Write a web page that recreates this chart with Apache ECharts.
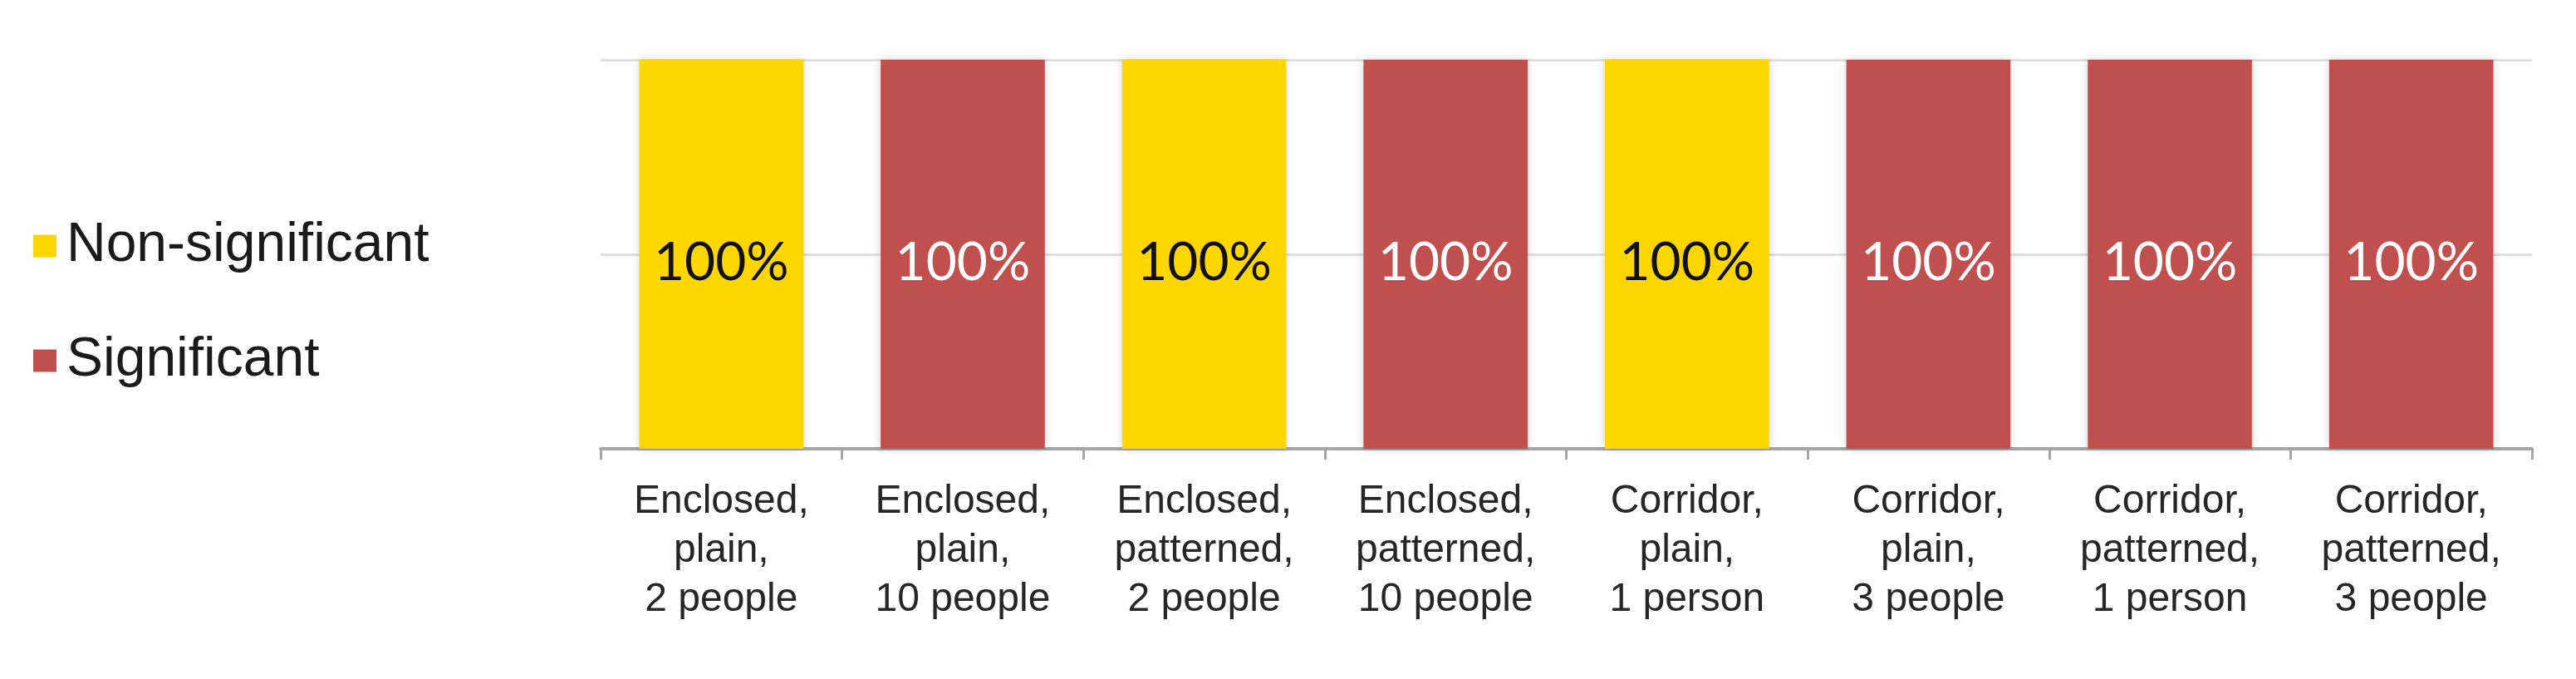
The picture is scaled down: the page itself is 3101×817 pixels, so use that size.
<!DOCTYPE html>
<html>
<head>
<meta charset="utf-8">
<title>Significance by condition</title>
<script src="https://cdn.jsdelivr.net/npm/echarts@6/dist/echarts.min.js"></script>
<style>
  html, body { margin: 0; padding: 0; background: #fff; }
  #main { width: 3101px; height: 817px; }
</style>
</head>
<body>
<div id="main"></div>
<script>
// categories (one bar each)
var categories = [
  "Enclosed,\nplain,\n2 people",
  "Enclosed,\nplain,\n10 people",
  "Enclosed,\npatterned,\n2 people",
  "Enclosed,\npatterned,\n10 people",
  "Corridor,\nplain,\n1 person",
  "Corridor,\nplain,\n3 people",
  "Corridor,\npatterned,\n1 person",
  "Corridor,\npatterned,\n3 people"
];

// percent of results, null where the category has no bar of that kind
var nonSignificant = [100, null, 100, null, 100, null, null, null];
var significant = [null, 100, null, 100, null, 100, 100, 100];

var seriesNames = ["Non-significant", "Significant"];
var yTicks = [0, 50, 100];

var myChart = echarts.init(document.getElementById("main"));
var option;

function barLabel(color) {
  return {
    show: true,
    position: "inside",
    offset: [0, 10],
    fontFamily: "Lato",
    fontSize: 64,
    color: color,
    formatter: function (p) {
      return p.value + "%";
    }
  };
}

option = {
  animation: false,
  backgroundColor: "#ffffff",
  legend: {
    orient: "vertical",
    left: 35,
    top: 258,
    itemWidth: 28,
    itemHeight: 27,
    itemGap: 72,
    icon: "rect",
    textStyle: {
      fontFamily: "Liberation Sans",
      fontSize: 66,
      lineHeight: 66,
      color: "#1a1a1a",
      padding: [0, 0, 0, 7]
    },
    data: seriesNames
  },
  grid: {
    left: 723,
    right: 53,
    top: 72,
    bottom: 277
  },
  xAxis: {
    type: "category",
    data: categories,
    axisLine: {
      lineStyle: { color: "#a6a6a6", width: 4 }
    },
    axisTick: {
      show: true,
      length: 13,
      lineStyle: { color: "#a6a6a6", width: 3 }
    },
    axisLabel: {
      interval: 0,
      margin: 34,
      fontFamily: "Liberation Sans",
      fontSize: 48,
      lineHeight: 59,
      color: "#262626",
      align: "center"
    }
  },
  yAxis: {
    type: "value",
    min: yTicks[0],
    max: yTicks[yTicks.length - 1],
    interval: yTicks[1] - yTicks[0],
    axisLabel: { show: false },
    axisLine: { show: false },
    axisTick: { show: false },
    splitLine: {
      lineStyle: { color: "#e0e0e0", width: 3 }
    }
  },
  series: [
    {
      name: seriesNames[0],
      type: "bar",
      stack: "all",
      barCategoryGap: "32%",
      data: nonSignificant,
      itemStyle: {
        color: "#FFD700",
        shadowColor: "rgba(0,0,0,0.18)",
        shadowBlur: 10
      },
      label: barLabel("#111111")
    },
    {
      name: seriesNames[1],
      type: "bar",
      stack: "all",
      barCategoryGap: "32%",
      data: significant,
      itemStyle: {
        color: "#C0504D",
        shadowColor: "rgba(0,0,0,0.18)",
        shadowBlur: 10
      },
      label: barLabel("#ffffff")
    }
  ]
};

option && myChart.setOption(option);
</script>
</body>
</html>
